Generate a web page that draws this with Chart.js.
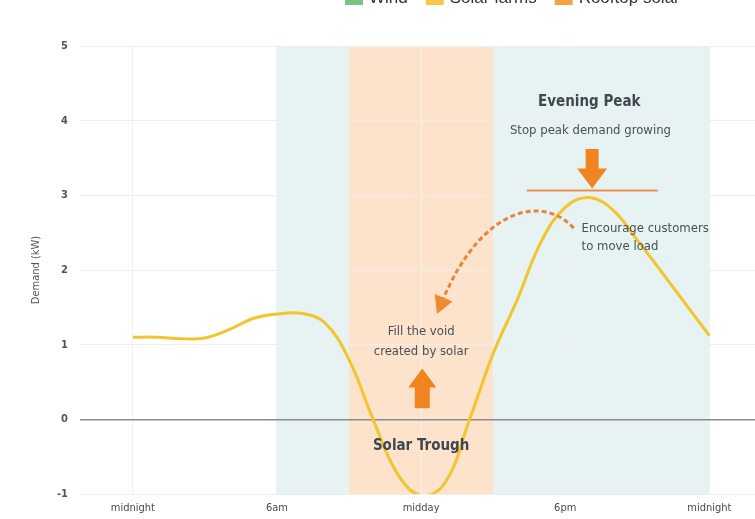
<!DOCTYPE html>
<html>
<head>
<meta charset="utf-8">
<script src="https://cdn.jsdelivr.net/npm/chart.js@4/dist/chart.umd.min.js"></script>
<style>
  html, body { margin: 0; padding: 0; background: #fff; }
  canvas { display: block; }
</style>
</head>
<body>
<canvas id="demandChart" width="755" height="519"></canvas>
<script>
// hours of the day and household demand (kW)
const hours = [0, 1, 2, 3, 4, 5, 6, 7, 8, 9, 10, 11, 12, 13, 14, 15, 16, 17, 18, 19, 20, 21, 22, 23, 24];
const demand = [1.10, 1.10, 1.08, 1.09, 1.20, 1.35, 1.41, 1.42, 1.29, 0.80, 0.0, -0.72, -1.02, -0.85, -0.02, 0.88, 1.60, 2.38, 2.84, 2.97, 2.80, 2.40, 1.98, 1.55, 1.12];

const xTickHours = [0, 6, 12, 18, 24];
const xTickLabels = ['midnight', '6am', 'midday', '6pm', 'midnight'];

// shaded periods (hours)
const bandStart = [6, 9, 15];
const bandEnd = [9, 15, 24];
const bandColor = ['#e7f2f2', '#fde3cb', '#e7f2f2'];

// legend (cut off at top of the picture)
const legendLabels = ['Wind', 'Solar farms', 'Rooftop solar'];
const legendColors = ['#7cc47b', '#f5c945', '#f7a23c'];

const FONT = "'Liberation Sans Narrow', 'DejaVu Sans Condensed', sans-serif";
const TEXT = '#48505b';
const ORANGE = '#f0841f';

// annotation texts in data units
const notes = [
  { text: 'Evening Peak', h: 19.0, v: 4.25, bold: true, size: 15, align: 'center' },
  { text: 'Stop peak demand growing', h: 19.05, v: 3.87, bold: false, size: 13, align: 'center' },
  { text: 'Encourage customers', h: 18.68, v: 2.55, bold: false, size: 13, align: 'left' },
  { text: 'to move load', h: 18.68, v: 2.31, bold: false, size: 13, align: 'left' },
  { text: 'Fill the void', h: 12.0, v: 1.17, bold: false, size: 13, align: 'center' },
  { text: 'created by solar', h: 12.0, v: 0.91, bold: false, size: 13, align: 'center' },
  { text: 'Solar Trough', h: 12.0, v: -0.36, bold: true, size: 15, align: 'center' }
];

const bandsPlugin = {
  id: 'bands',
  beforeDraw(chart) {
    const { ctx, chartArea, scales } = chart;
    ctx.save();
    for (let i = 0; i < bandStart.length; i++) {
      const x0 = scales.x.getPixelForValue(bandStart[i]);
      const x1 = scales.x.getPixelForValue(bandEnd[i]);
      ctx.fillStyle = bandColor[i];
      ctx.fillRect(x0, chartArea.top, x1 - x0, chartArea.bottom - chartArea.top);
    }
    ctx.restore();
  }
};

function blockArrow(ctx, x, tipY, baseY, headLen, headW, shaftW) {
  const dir = tipY > baseY ? 1 : -1;
  const neck = tipY - dir * headLen;
  ctx.beginPath();
  ctx.moveTo(x - shaftW / 2, baseY);
  ctx.lineTo(x + shaftW / 2, baseY);
  ctx.lineTo(x + shaftW / 2, neck);
  ctx.lineTo(x + headW / 2, neck);
  ctx.lineTo(x, tipY);
  ctx.lineTo(x - headW / 2, neck);
  ctx.lineTo(x - shaftW / 2, neck);
  ctx.closePath();
  ctx.fill();
}

const notesPlugin = {
  id: 'notes',
  afterDatasetsDraw(chart) {
    const { ctx, scales } = chart;
    const px = h => scales.x.getPixelForValue(h);
    const py = v => scales.y.getPixelForValue(v);
    ctx.save();

    // cap line over evening peak
    ctx.strokeStyle = '#e8914a';
    ctx.lineWidth = 2;
    ctx.beginPath();
    ctx.moveTo(px(16.4), py(3.065));
    ctx.lineTo(px(21.85), py(3.065));
    ctx.stroke();

    // block arrows
    ctx.fillStyle = ORANGE;
    blockArrow(ctx, px(19.12), py(3.09), py(3.62), 20, 30, 13);
    blockArrow(ctx, px(12.05), py(0.68), py(0.15), 19, 28, 15);

    // dashed curved arrow
    const p0 = [px(18.35), py(2.56)];
    const c1 = [px(17.2), py(2.98)];
    const c2 = [px(14.6), py(2.92)];
    const p1 = [px(12.85), py(1.56)];
    ctx.strokeStyle = '#e8843a';
    ctx.lineWidth = 3;
    ctx.setLineDash([5, 3]);
    ctx.beginPath();
    ctx.moveTo(p0[0], p0[1]);
    ctx.bezierCurveTo(c1[0], c1[1], c2[0], c2[1], p1[0], p1[1]);
    ctx.stroke();
    ctx.setLineDash([]);
    // arrow head pointing along the curve end
    const ang = Math.atan2(p1[1] - c2[1], p1[0] - c2[0]);
    const tip = [p1[0] + Math.cos(ang) * 12, p1[1] + Math.sin(ang) * 12];
    ctx.fillStyle = '#ee8a30';
    ctx.beginPath();
    ctx.moveTo(tip[0], tip[1]);
    ctx.lineTo(tip[0] - Math.cos(ang - 0.5) * 20, tip[1] - Math.sin(ang - 0.5) * 20);
    ctx.lineTo(tip[0] - Math.cos(ang + 0.5) * 20, tip[1] - Math.sin(ang + 0.5) * 20);
    ctx.closePath();
    ctx.fill();

    // texts
    ctx.textBaseline = 'middle';
    notes.forEach(n => {
      ctx.font = (n.bold ? 'bold ' : '') + n.size + 'px ' + FONT;
      ctx.fillStyle = n.bold ? '#3f4852' : TEXT;
      ctx.textAlign = n.align;
      ctx.fillText(n.text, px(n.h), py(n.v));
    });
    ctx.restore();
  },
  afterDraw(chart) {
    // legend strip, cropped by the top edge
    const { ctx } = chart;
    ctx.save();
    ctx.font = "17px 'Liberation Sans', Arial, sans-serif";
    ctx.textBaseline = 'alphabetic';
    ctx.textAlign = 'left';
    let x = 345;
    legendLabels.forEach((lab, i) => {
      ctx.fillStyle = legendColors[i];
      ctx.fillRect(x, -12, 18, 17);
      ctx.fillStyle = '#333';
      ctx.fillText(lab, x + 24, 3);
      x += 24 + ctx.measureText(lab).width + 18;
    });
    ctx.restore();
  }
};

new Chart(document.getElementById('demandChart'), {
  type: 'line',
  data: {
    datasets: [{
      label: 'Demand',
      data: hours.map((h, i) => ({ x: h, y: demand[i] })),
      borderColor: '#f2c52c',
      borderWidth: 3,
      pointRadius: 0,
      tension: 0.4,
      fill: false
    }]
  },
  options: {
    responsive: false,
    devicePixelRatio: 1,
    animation: false,
    layout: { padding: { top: 46, left: 0, right: 0, bottom: 0 } },
    plugins: { legend: { display: false }, tooltip: { enabled: false } },
    scales: {
      x: {
        type: 'linear',
        min: -2.2,
        max: 25.9,
        afterBuildTicks: scale => { scale.ticks = xTickHours.map(v => ({ value: v })); },
        afterFit: scale => { scale.height = 25; },
        ticks: {
          autoSkip: false,
          maxRotation: 0,
          padding: 8,
          color: '#4a4a4a',
          font: { family: FONT, size: 11 },
          callback: (v) => xTickLabels[xTickHours.indexOf(v)]
        },
        grid: { color: '#f1f1f1', drawTicks: false },
        border: { display: false }
      },
      y: {
        min: -1,
        max: 5,
        afterFit: scale => { scale.width = 80; },
        ticks: {
          stepSize: 1,
          padding: 12,
          color: '#555',
          font: { family: FONT, size: 11, weight: 'bold' }
        },
        grid: {
          color: c => c.tick.value === 0 ? '#8c8c8c' : '#eeeeee',
          lineWidth: c => c.tick.value === 0 ? 1.5 : 1,
          drawTicks: false
        },
        border: { display: false },
        title: {
          display: true,
          text: 'Demand (kW)',
          color: '#555',
          padding: { top: 30, bottom: 0 },
          font: { family: FONT, size: 11 }
        }
      }
    }
  },
  plugins: [bandsPlugin, notesPlugin]
});
</script>
</body>
</html>
